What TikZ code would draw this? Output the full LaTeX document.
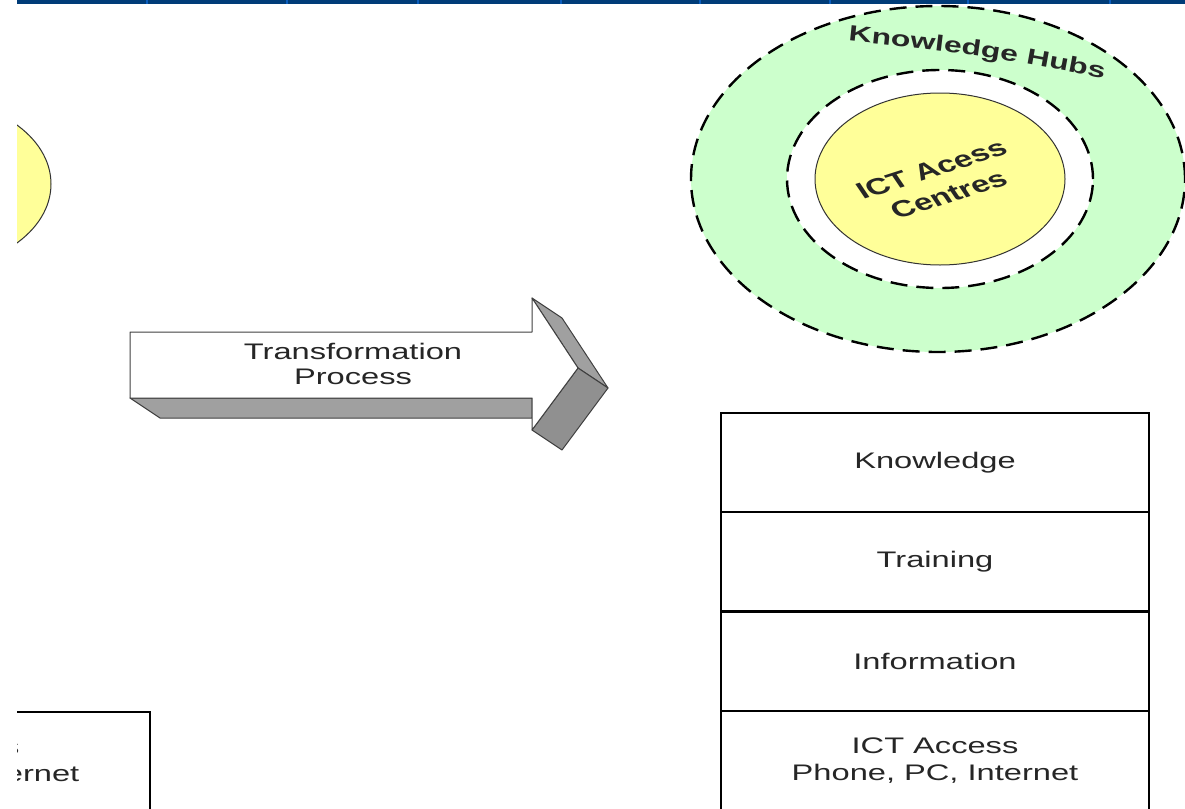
\documentclass[tikz,border=0pt]{standalone}
\usepackage{fontspec}
\setmainfont{Liberation Sans}
\newfontfamily\widefont{Liberation Sans}[FakeStretch=1.45]
\usetikzlibrary{decorations.text,shapes.geometric}
\definecolor{barblue}{HTML}{003C78}
\definecolor{tickblue}{HTML}{0A5EBE}
\definecolor{hubgreen}{HTML}{CCFFCC}
\definecolor{ictyellow}{HTML}{FFFF99}
\definecolor{arrowgray}{HTML}{A0A0A0}
\definecolor{txt}{HTML}{262626}
\begin{document}
\begin{tikzpicture}[x=1pt,y=-1pt,
  layer/.style={draw=black, line width=2pt, minimum width=428pt, minimum height=99pt,
    inner sep=0pt, align=center, text=txt, font=\widefont\fontsize{22.5}{26.5}\selectfont},
  hubring/.style={ellipse, draw=black, line width=2.4pt, dash pattern=on 17pt off 9pt, inner sep=0pt},
  ictdisc/.style={ellipse, draw=black!80, line width=1pt, fill=ictyellow, inner sep=0pt},
  arrowface/.style={draw=black!75, line width=1pt, line join=round},
  plaintext/.style={align=center, text=txt, font=\widefont\fontsize{22.5}{25}\selectfont}]
\useasboundingbox (0,0) rectangle (1185,808);
\clip (17,-5) rectangle (1185,808);
% top bar
\fill[barblue] (17,0) rectangle (1185,4.5);
\foreach \x in {147,287,418,561,700,830,968,1110}
  \draw[tickblue, line width=2pt] (\x,0) -- (\x,4.5);
% left partial disc
\node[ictdisc, minimum width=250pt, minimum height=172pt] (oldcentre) at (-74,184) {};
% left partial box
\node[layer] (oldaccess) at (-64,761.5) {ICT Access\\Phone, PC, Internet};
% arrow
\fill[arrowgray, arrowface] (130,398) -- (160,418) -- (532,418) -- (532,398) -- cycle;
\fill[arrowgray, arrowface] (532,298) -- (562,318) -- (608,388) -- (578,368) -- cycle;
\fill[arrowgray!90!black, arrowface] (578,368) -- (608,388) -- (562,450) -- (532,430) -- cycle;
\filldraw[fill=white, arrowface] (130,332) -- (532,332) -- (532,298) -- (578,368) -- (532,430) -- (532,398) -- (130,398) -- cycle;
\node[plaintext] (tp) at (353,364) {Transformation\\Process};
% hubs
\node[hubring, fill=hubgreen, minimum width=494pt, minimum height=346pt] (hubs) at (938,179) {};
\node[hubring, fill=white, minimum width=306pt, minimum height=218pt] (gap) at (940,179) {};
\node[ictdisc, minimum width=250pt, minimum height=172pt] (centre) at (940,179) {};
\path[decorate, decoration={text along path, text align=center, text color=txt,
   text={|\widefont\bfseries\fontsize{22}{26}\selectfont|Knowledge Hubs}}]
   (840,40) .. controls (975,54) .. (1112,80);
\begin{scope}[xscale=1.45]
  \node[rotate=25, transform shape, align=center, text=txt,
     font=\bfseries\fontsize{23}{28}\selectfont] (ictc) at (648.3,182) {ICT Acess\\Centres};
\end{scope}
% layer stack
\node[layer] (know) at (935,462.5) {Knowledge};
\node[layer] (train) at (935,561.5) {Training};
\node[layer] (info) at (935,661) {Information};
\node[layer] (access) at (935,760.5) {ICT Access\\Phone, PC, Internet};
\end{tikzpicture}
\end{document}
